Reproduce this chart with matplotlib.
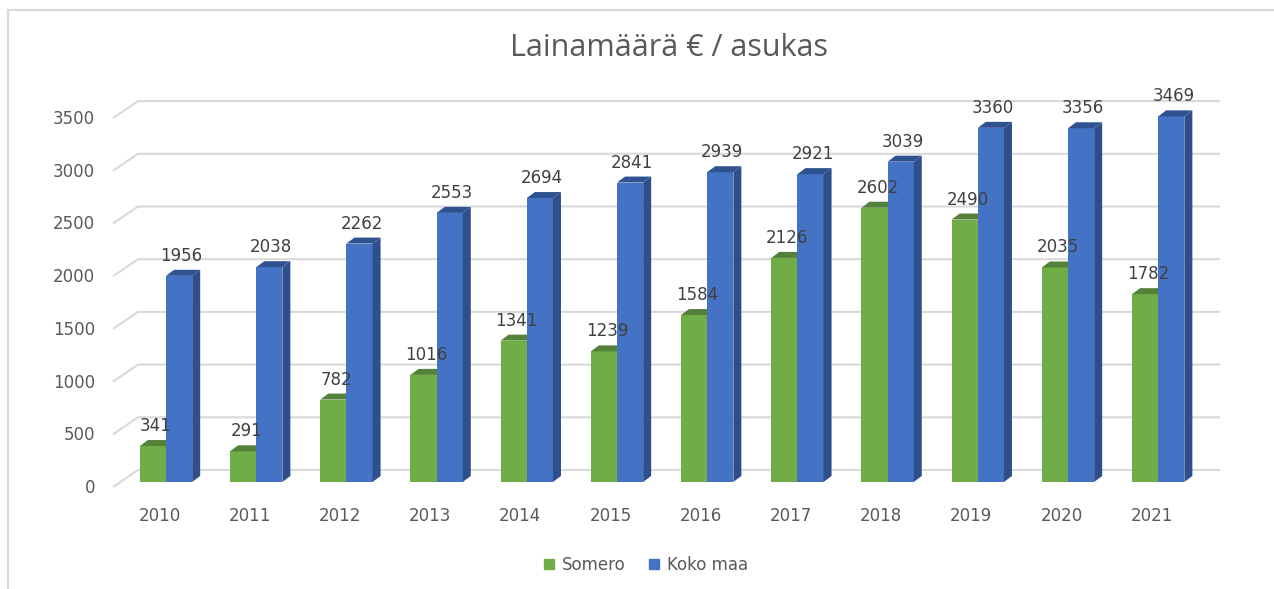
import numpy as np
import matplotlib
matplotlib.use('Agg')
import matplotlib.pyplot as plt
from matplotlib.patches import Polygon
from matplotlib.lines import Line2D

# Data
years = ['2010', '2011', '2012', '2013', '2014', '2015',
         '2016', '2017', '2018', '2019', '2020', '2021']
somero = [341, 291, 782, 1016, 1341, 1239, 1584, 2126, 2602, 2490, 2035, 1782]
koko_maa = [1956, 2038, 2262, 2553, 2694, 2841, 2939, 2921, 3039, 3360, 3356, 3469]
y_ticks = [0, 500, 1000, 1500, 2000, 2500, 3000, 3500]

# Colours (Excel style)
GREEN = '#70ad47'
GREEN_TOP = '#53813a'
BLUE = '#4472c4'
BLUE_SIDE = '#2f4f8c'
BLUE_TOP = '#2f5291'
GRID = '#d9d9d9'
TEXT = '#595959'
LABEL = '#404040'

W, H = 1274, 589
fig = plt.figure(figsize=(W / 100, H / 100), dpi=100)
fig.patch.set_facecolor('white')

# axes placed in pixels
ax_l, ax_r, ax_t, ax_b = 100, 1230, 80, 500
ax = fig.add_axes([ax_l / W, 1 - ax_b / H, (ax_r - ax_l) / W, (ax_b - ax_t) / H])
x_lo, x_hi = -0.732, 11.796
y_lo, y_hi = -171, 3814
ax.set_xlim(x_lo, x_hi)
ax.set_ylim(y_lo, y_hi)
ax.axis('off')

# pixel -> data scale
sx = (ax_r - ax_l) / (x_hi - x_lo)
sy = (ax_b - ax_t) / (y_hi - y_lo)

x = np.arange(len(years))
bar_w = 0.29
dx, dy = 8 / sx, 6 / sy  # bar depth

# back wall gridlines with floor diagonal
x_front, x_back, x_end = -53 / sx, -28 / sx, 1054 / sx
for v in y_ticks:
    ax.plot([x_front, x_back, x_end], [v - 5 / sy, v + 12 / sy, v + 12 / sy],
            color=GRID, lw=1.5, zorder=1, solid_capstyle='butt')
    ax.text(x_front - 18 / sx, v - 6 / sy, str(v), ha='right', va='center',
            fontsize=12, color=TEXT, clip_on=False)

# bars (front faces)
ax.bar(x - bar_w / 2, somero, bar_w, color=GREEN, zorder=3, linewidth=0)
ax.bar(x + bar_w / 2, koko_maa, bar_w, color=BLUE, zorder=4, linewidth=0)

# 3D top and side faces
for i in range(len(years)):
    gl, gr, h = x[i] - bar_w, x[i], somero[i]
    ax.add_patch(Polygon([(gl, h), (gr, h), (gr + dx, h + dy), (gl + dx, h + dy)],
                         closed=True, color=GREEN_TOP, lw=0, zorder=3))
    bl, br, h = x[i], x[i] + bar_w, koko_maa[i]
    ax.add_patch(Polygon([(br, 0), (br + dx, dy), (br + dx, h + dy), (br, h)],
                         closed=True, color=BLUE_SIDE, lw=0, zorder=4))
    ax.add_patch(Polygon([(bl, h), (br, h), (br + dx, h + dy), (bl + dx, h + dy)],
                         closed=True, color=BLUE_TOP, lw=0, zorder=4))

# data labels
for i in range(len(years)):
    ax.text(x[i] - bar_w / 2 + 3 / sx, somero[i] + 15 / sy, str(somero[i]),
            ha='center', va='baseline', fontsize=12, color=LABEL, zorder=6)
    ax.text(x[i] + bar_w / 2 + 2 / sx, koko_maa[i] + 15 / sy, str(koko_maa[i]),
            ha='center', va='baseline', fontsize=12, color=LABEL, zorder=6)

# category labels
for i, yr in enumerate(years):
    ax.text(x[i] - 6.5 / sx, -34 / sy, yr, ha='center', va='center',
            fontsize=12, color=TEXT, clip_on=False)

# title
fig.text(669 / W, 1 - 56 / H, 'Lainamäärä € / asukas', ha='center', va='baseline',
         fontsize=22, color=TEXT, family=['Open Sans', 'DejaVu Sans'])

# legend
handles = [Line2D([], [], marker='s', ls='', color=GREEN, markersize=6.5),
           Line2D([], [], marker='s', ls='', color=BLUE, markersize=6.5)]
fig.legend(handles, ['Somero', 'Koko maa'], loc='center', ncol=2,
           bbox_to_anchor=(646 / W, 1 - 565 / H), frameon=False, fontsize=12,
           labelcolor=TEXT, handlelength=0.6, handletextpad=0.5, columnspacing=1.4)

# chart border (top and left)
fig.add_artist(Line2D([8 / W, 1], [1 - 10 / H, 1 - 10 / H], transform=fig.transFigure,
                      color=GRID, lw=1.5))
fig.add_artist(Line2D([8 / W, 8 / W], [0, 1 - 10 / H], transform=fig.transFigure,
                      color=GRID, lw=1.5))

fig.savefig('out.png', dpi=100)
plt.close(fig)
